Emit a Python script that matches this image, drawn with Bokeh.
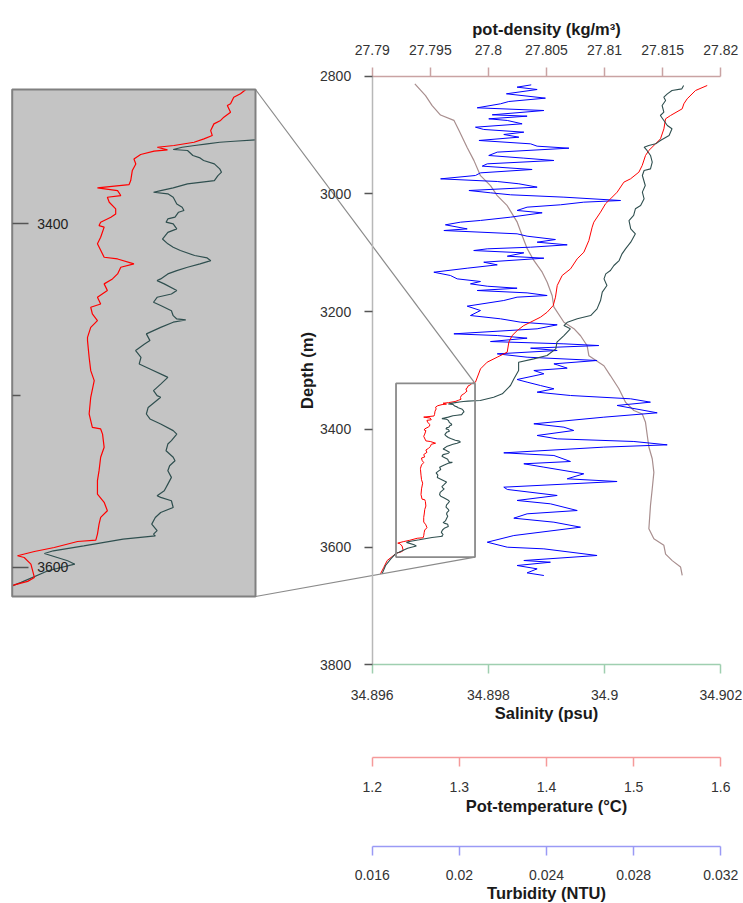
from bokeh.plotting import figure
from bokeh.models import Range1d, LinearAxis, FixedTicker, Grid
from bokeh.embed import file_html
from bokeh.resources import INLINE

# ---------------- data ----------------
# pot-density profile
rho_depth = [2813, 2833, 2850, 2866, 2875, 2892, 2921, 2943, 2969, 2986,
             3003, 3020, 3048, 3071, 3093, 3113, 3133, 3150, 3173, 3192,
             3218, 3229, 3241, 3258, 3275, 3292, 3309, 3331, 3354, 3368,
             3374, 3388, 3410, 3430, 3450, 3473, 3501, 3529, 3569, 3586,
             3597, 3612, 3623, 3634, 3648]
rho = [27.79367, 27.79459, 27.79516, 27.79588, 27.79703, 27.79746, 27.79817, 27.79875, 27.79932, 27.80018,
       27.80076, 27.80162, 27.80248, 27.80291, 27.80334, 27.80391, 27.80463, 27.80506, 27.80549, 27.80563,
       27.80650, 27.80736, 27.80793, 27.80850, 27.80865, 27.80994, 27.81051, 27.81123, 27.81180, 27.81252,
       27.81324, 27.81352, 27.81367, 27.81381, 27.81410, 27.81424, 27.81410, 27.81395, 27.81381, 27.81424,
       27.81510, 27.81525, 27.81582, 27.81654, 27.81668]

# turbidity profile
turb_depth = [2814.7, 2818.6, 2822.6, 2829.9, 2837.3, 2843.0, 2846.9, 2853.7, 2858.3, 2865.6,
              2867.9, 2872.4, 2875.2, 2880.9, 2886.6, 2890.5, 2895.1, 2899.0, 2903.6, 2909.2,
              2914.9, 2918.9, 2922.3, 2929.0, 2934.7, 2939.2, 2943.2, 2948.9, 2952.8, 2958.5,
              2964.2, 2968.7, 2974.4, 2978.9, 2982.8, 2988.5, 2994.2, 2998.1, 3001.5, 3005.5,
              3011.2, 3014.0, 3018.5, 3022.5, 3028.1, 3032.1, 3039.5, 3045.1, 3048.0, 3052.5,
              3059.4, 3062.2, 3067.8, 3071.8, 3077.5, 3082.0, 3086.5, 3090.5, 3093.3, 3096.2,
              3100.1, 3105.8, 3109.2, 3116.0, 3120.5, 3126.2, 3133.0, 3138.6, 3144.3, 3148.8,
              3152.8, 3156.8, 3160.2, 3164.1, 3168.1, 3172.6, 3175.4, 3181.1, 3190.7, 3198.1,
              3206.6, 3212.2, 3217.9, 3222.4, 3229.2, 3237.7, 3240.6, 3245.1, 3250.8, 3254.7,
              3257.6, 3262.1, 3266.0, 3271.7, 3277.4, 3283.0, 3288.7, 3290.4, 3296.0, 3300.0,
              3305.6, 3315.3, 3319.8, 3325.5, 3331.1, 3336.8, 3342.5, 3348.1, 3353.8, 3359.4,
              3371.9, 3379.3, 3390.6, 3396.3, 3401.9, 3410.4, 3416.1, 3420.6, 3426.3, 3430.2,
              3439.9, 3444.4, 3454.6, 3458.5, 3464.2, 3475.5, 3484.0, 3488.6, 3498.2, 3502.1,
              3512.3, 3520.8, 3526.5, 3537.9, 3543.5, 3550.9, 3557.7, 3566.2, 3580.4, 3591.7,
              3600.2, 3603.0, 3614.3, 3622.8, 3625.7, 3631.3, 3637.0, 3643.8, 3648.3]
turb = [0.02330, 0.02265, 0.02357, 0.02216, 0.02395, 0.02227, 0.02189, 0.02082, 0.02388, 0.02151,
        0.02311, 0.02135, 0.02220, 0.02288, 0.02074, 0.02112, 0.02296, 0.02204, 0.02273, 0.02090,
        0.02327, 0.02357, 0.02503, 0.02174, 0.02135, 0.02296, 0.02434, 0.02128, 0.02105, 0.02334,
        0.02097, 0.02074, 0.01914, 0.02174, 0.02273, 0.02357, 0.02044, 0.02143, 0.02235, 0.02480,
        0.02740, 0.02571, 0.02464, 0.02311, 0.02265, 0.02380, 0.02235, 0.02097, 0.02005, 0.01936,
        0.02036, 0.01929, 0.02265, 0.02311, 0.02441, 0.02357, 0.02495, 0.02327, 0.02128, 0.02066,
        0.02296, 0.02220, 0.02388, 0.02112, 0.02174, 0.02036, 0.01883, 0.01959, 0.01990, 0.02097,
        0.02051, 0.02128, 0.02265, 0.02082, 0.02311, 0.02403, 0.02265, 0.02204, 0.02036, 0.02097,
        0.02051, 0.02189, 0.02281, 0.02449, 0.02357, 0.01975, 0.02174, 0.02311, 0.02143, 0.02480,
        0.02640, 0.02327, 0.02449, 0.02174, 0.02311, 0.02632, 0.02434, 0.02449, 0.02495, 0.02342,
        0.02388, 0.02265, 0.02311, 0.02372, 0.02434, 0.02357, 0.02510, 0.02786, 0.02877, 0.02724,
        0.02908, 0.02663, 0.02342, 0.02480, 0.02525, 0.02357, 0.02449, 0.02801, 0.02954, 0.02663,
        0.02204, 0.02434, 0.02510, 0.02296, 0.02388, 0.02571, 0.02495, 0.02724, 0.02204, 0.02220,
        0.02449, 0.02265, 0.02418, 0.02541, 0.02311, 0.02250, 0.02434, 0.02556, 0.02250, 0.02128,
        0.02220, 0.02388, 0.02632, 0.02296, 0.02418, 0.02265, 0.02357, 0.02311, 0.02388]

# pot-temperature: above the zoom window, inside it (detailed), below it
temp_depth_above = [2815.8, 2824.3, 2838.4, 2846.9, 2855.4, 2866.8, 2872.4, 2889.4, 2906.4, 2914.9,
                    2926.2, 2934.7, 2951.7, 2963.0, 2974.4, 2980.0, 2997.0, 3008.3, 3016.8, 3031.0,
                    3048.0, 3056.5, 3079.2, 3099.0, 3110.3, 3127.3, 3138.6, 3155.6, 3175.4, 3189.6,
                    3200.9, 3209.4, 3217.9, 3223.6, 3232.1, 3240.6, 3251.9, 3268.9, 3277.4, 3285.9,
                    3297.2, 3319.8]
temp_above = [1.5844, 1.5710, 1.5614, 1.5576, 1.5557, 1.5423, 1.5366, 1.5347, 1.5308, 1.5251,
              1.5174, 1.5136, 1.5098, 1.5060, 1.4964, 1.4888, 1.4811, 1.4735, 1.4677, 1.4620,
              1.4543, 1.4524, 1.4486, 1.4429, 1.4352, 1.4276, 1.4180, 1.4123, 1.4103, 1.4077,
              1.4008, 1.3931, 1.3817, 1.3740, 1.3664, 1.3606, 1.3568, 1.3549, 1.3434, 1.3319,
              1.3243, 1.3185]
temp_depth_zoom = [3322.2, 3324.5, 3326.5, 3330.3, 3331.3, 3335.2, 3338.1, 3340.0, 3342.0, 3345.9,
                   3348.8, 3350.7, 3352.7, 3354.6, 3355.6, 3357.1, 3357.9, 3359.8, 3362.4, 3365.3,
                   3369.1, 3375.0, 3377.3, 3379.2, 3380.8, 3383.7, 3384.7, 3387.6, 3391.5, 3394.4,
                   3396.3, 3399.2, 3401.2, 3402.1, 3408.0, 3411.8, 3419.6, 3420.6, 3423.5, 3425.4,
                   3429.3, 3432.2, 3435.1, 3439.0, 3442.9, 3446.8, 3448.7, 3452.6, 3456.5, 3460.4,
                   3466.2, 3468.1, 3477.8, 3485.6, 3491.4, 3501.1, 3510.8, 3518.6, 3519.5, 3522.5,
                   3530.2, 3536.0, 3543.8, 3549.6, 3557.4, 3562.2, 3567.1, 3571.0, 3574.9, 3580.7,
                   3584.2, 3585.0, 3588.5, 3590.8, 3593.3, 3594.3, 3598.2, 3605.9, 3608.2, 3610.2,
                   3610.8]
temp_zoom = [1.3143, 1.3124, 1.3099, 1.3087, 1.3075, 1.3087, 1.3062, 1.3050, 1.3025, 1.3013,
             1.3019, 1.2988, 1.2951, 1.2876, 1.2814, 1.2852, 1.2802, 1.2752, 1.2727, 1.2734,
             1.2721, 1.2715, 1.2709, 1.2591, 1.2666, 1.2678, 1.2628, 1.2635, 1.2659, 1.2659,
             1.2641, 1.2603, 1.2597, 1.2616, 1.2603, 1.2591, 1.2616, 1.2666, 1.2727, 1.2678,
             1.2666, 1.2647, 1.2616, 1.2628, 1.2591, 1.2603, 1.2566, 1.2572, 1.2591, 1.2566,
             1.2554, 1.2554, 1.2560, 1.2566, 1.2579, 1.2566, 1.2560, 1.2572, 1.2603, 1.2610,
             1.2616, 1.2603, 1.2597, 1.2591, 1.2591, 1.2616, 1.2628, 1.2603, 1.2597, 1.2591,
             1.2585, 1.2517, 1.2430, 1.2356, 1.2293, 1.2318, 1.2343, 1.2356, 1.2331, 1.2281,
             1.2275]
temp_depth_below = [3622.8, 3634.2, 3645.5]
temp_below = [1.2172, 1.2134, 1.2095]

# salinity: above the zoom window, inside it (detailed), below it
sal_depth_above = [2815.8, 2821.5, 2824.3, 2830.0, 2835.6, 2841.3, 2849.8, 2861.1, 2866.8, 2875.2,
                   2883.7, 2889.4, 2900.7, 2909.2, 2914.9, 2917.7, 2920.6, 2926.2, 2934.7, 2946.0,
                   2957.4, 2960.2, 2968.7, 2985.7, 2997.0, 3008.3, 3019.7, 3025.3, 3036.6, 3045.2,
                   3059.4, 3067.8, 3082.0, 3093.3, 3101.8, 3113.2, 3121.6, 3130.1, 3135.8, 3144.3,
                   3155.6, 3166.9, 3181.1, 3195.3, 3206.6, 3212.2, 3217.9, 3223.6, 3229.2, 3240.6,
                   3251.9, 3263.2, 3274.5, 3280.2, 3285.9, 3300.0, 3314.1, 3325.5, 3339.6, 3345.3,
                   3351.0]
sal_above = [34.90136, 34.90133, 34.90116, 34.90108, 34.90102, 34.90105, 34.90099, 34.90102, 34.90096, 34.90102,
             34.90108, 34.90116, 34.90111, 34.90096, 34.90088, 34.90076, 34.90068, 34.90073, 34.90079, 34.90082,
             34.90079, 34.90068, 34.90065, 34.90070, 34.90065, 34.90068, 34.90062, 34.90053, 34.90050, 34.90042,
             34.90045, 34.90053, 34.90045, 34.90036, 34.90030, 34.90025, 34.90016, 34.90010, 34.90002, 34.89999,
             34.90004, 34.89996, 34.89993, 34.89987, 34.89976, 34.89953, 34.89936, 34.89930, 34.89941, 34.89930,
             34.89918, 34.89916, 34.89901, 34.89878, 34.89852, 34.89852, 34.89844, 34.89838, 34.89824, 34.89809,
             34.89786]
sal_depth_zoom = [3351.3, 3352.1, 3352.7, 3353.6, 3354.6, 3355.6, 3356.9, 3357.5, 3360.4, 3361.8,
                  3363.3, 3365.3, 3368.2, 3370.1, 3372.1, 3375.0, 3376.0, 3376.9, 3379.2, 3380.8,
                  3381.8, 3382.7, 3384.7, 3388.6, 3390.5, 3392.4, 3393.4, 3396.3, 3397.3, 3399.2,
                  3400.2, 3403.1, 3405.1, 3409.0, 3411.8, 3413.8, 3415.7, 3418.6, 3420.0, 3421.6,
                  3423.5, 3425.4, 3427.4, 3429.3, 3432.2, 3433.2, 3435.1, 3439.0, 3441.0, 3442.9,
                  3445.8, 3447.7, 3450.7, 3453.6, 3455.5, 3456.1, 3457.4, 3460.4, 3464.2, 3468.1,
                  3470.1, 3473.9, 3477.8, 3481.7, 3484.6, 3488.5, 3489.5, 3493.4, 3497.2, 3500.1,
                  3501.1, 3507.0, 3510.8, 3513.7, 3516.6, 3520.5, 3522.5, 3526.3, 3528.3, 3532.2,
                  3536.0, 3538.0, 3540.9, 3543.8, 3547.7, 3551.6, 3555.5, 3558.4, 3559.3, 3561.3,
                  3565.2, 3568.1, 3571.0, 3574.9, 3578.7, 3580.7, 3581.7, 3583.6, 3587.5, 3590.4,
                  3592.0, 3596.2, 3598.2, 3602.0, 3608.8, 3610.8]
sal_zoom = [34.89777, 34.89765, 34.89757, 34.89750, 34.89743, 34.89736, 34.89731, 34.89739, 34.89742, 34.89746,
            34.89748, 34.89754, 34.89757, 34.89758, 34.89756, 34.89754, 34.89746, 34.89739, 34.89731, 34.89724,
            34.89720, 34.89728, 34.89731, 34.89733, 34.89736, 34.89737, 34.89734, 34.89732, 34.89728, 34.89727,
            34.89731, 34.89733, 34.89728, 34.89725, 34.89728, 34.89731, 34.89735, 34.89743, 34.89750, 34.89752,
            34.89746, 34.89739, 34.89733, 34.89728, 34.89724, 34.89722, 34.89726, 34.89733, 34.89730, 34.89722,
            34.89720, 34.89724, 34.89730, 34.89731, 34.89733, 34.89738, 34.89731, 34.89724, 34.89716, 34.89718,
            34.89715, 34.89710, 34.89713, 34.89712, 34.89718, 34.89726, 34.89728, 34.89724, 34.89720, 34.89722,
            34.89724, 34.89717, 34.89716, 34.89718, 34.89724, 34.89731, 34.89733, 34.89730, 34.89728, 34.89727,
            34.89731, 34.89732, 34.89729, 34.89728, 34.89730, 34.89728, 34.89726, 34.89722, 34.89724, 34.89730,
            34.89731, 34.89724, 34.89721, 34.89719, 34.89722, 34.89720, 34.89721, 34.89703, 34.89681, 34.89664,
            34.89659, 34.89672, 34.89676, 34.89661, 34.89646, 34.89641]
sal_depth_below = [3620.0, 3631.3, 3645.5]
sal_below = [34.89632, 34.89623, 34.89617]

# axes: limits, ticks and tick labels
DEPTH_LIM = (2800, 3800)
SAL_LIM = (34.896, 34.902)
RHO_LIM = (27.79, 27.82)
TMP_LIM = (1.2, 1.6)
TUR_LIM = (0.016, 0.032)
depth_ticks = [2800, 3000, 3200, 3400, 3600, 3800]
depth_labels = ["2800", "3000", "3200", "3400", "3600", "3800"]
rho_ticks = [27.79, 27.795, 27.8, 27.805, 27.81, 27.815, 27.82]
rho_labels = ["27.79", "27.795", "27.8", "27.805", "27.81", "27.815", "27.82"]
sal_ticks = [34.896, 34.898, 34.9, 34.902]
sal_labels = ["34.896", "34.898", "34.9", "34.902"]
tmp_ticks = [1.2, 1.3, 1.4, 1.5, 1.6]
tmp_labels = ["1.2", "1.3", "1.4", "1.5", "1.6"]
tur_ticks = [0.016, 0.02, 0.024, 0.028, 0.032]
tur_labels = ["0.016", "0.02", "0.024", "0.028", "0.032"]
zoom_ticks = [3400, 3600]
zoom_labels = ["3400", "3600"]
zoom_minor = [3500]

# zoom window (data coordinates of the rectangle)
WIN_SAL = (34.89641, 34.89777)
WIN_DEPTH = (3322.0, 3617.0)

# ---------------- layout (canvas pixels) ----------------
W, H = 743, 903
X_L, X_R = 371.7, 720.3          # main x-axes span
Y_T, Y_B = 75.7, 664.3           # depth 2800 .. 3800
INS_L, INS_R, INS_T, INS_B = 11.7, 255.0, 89.0, 596.0
Y_TMP_AXIS = 757.3
Y_TUR_AXIS = 845.7

FONT = "Liberation Sans"
C_RED = "#ff0000"
C_SAL = "#2f4f4f"
C_BLUE = "#0000ff"
C_RHO = "#a88e8e"


def lin_range(v0, v1, p0, p1, total):
    k = (v1 - v0) / (p1 - p0)
    return Range1d(start=v0 - p0 * k, end=v0 + (total - p0) * k)


def depth_at(cy):
    return DEPTH_LIM[0] + (cy - Y_T) * (DEPTH_LIM[1] - DEPTH_LIM[0]) / (Y_B - Y_T)


def sal_at(cx):
    return SAL_LIM[0] + (cx - X_L) * (SAL_LIM[1] - SAL_LIM[0]) / (X_R - X_L)


def tmp_of_sal(s):
    return TMP_LIM[0] + (s - SAL_LIM[0]) / (SAL_LIM[1] - SAL_LIM[0]) * (TMP_LIM[1] - TMP_LIM[0])


WIN_TMP = (tmp_of_sal(WIN_SAL[0]), tmp_of_sal(WIN_SAL[1]))

p = figure(width=W, height=H,
           x_range=lin_range(SAL_LIM[0], SAL_LIM[1], X_L, X_R, W),
           y_range=lin_range(DEPTH_LIM[0], DEPTH_LIM[1], H - Y_T, H - Y_B, H),
           x_axis_location=None, y_axis_location=None,
           toolbar_location=None, output_backend="svg", min_border=0)
p.outline_line_color = None
p.background_fill_color = "white"
p.border_fill_color = "white"
for g in p.select(type=Grid):
    g.visible = False

p.extra_x_ranges = {
    "rho": lin_range(RHO_LIM[0], RHO_LIM[1], X_L, X_R, W),
    "tmp": lin_range(TMP_LIM[0], TMP_LIM[1], X_L, X_R, W),
    "tur": lin_range(TUR_LIM[0], TUR_LIM[1], X_L, X_R, W),
    "ins_s": lin_range(WIN_SAL[0], WIN_SAL[1], INS_L, INS_R, W),
    "ins_t": lin_range(WIN_TMP[0], WIN_TMP[1], INS_L, INS_R, W),
}
p.extra_y_ranges = {
    "ins_d": lin_range(WIN_DEPTH[0], WIN_DEPTH[1], H - INS_T, H - INS_B, H),
}


def styled_axis(ticks, labels, color, tick_color, label, tick_out=9, standoff=12,
                label_standoff=2, **kw):
    ax = LinearAxis(ticker=FixedTicker(ticks=ticks, minor_ticks=[]),
                    major_label_overrides=dict(zip(ticks, labels)),
                    axis_line_color=color, axis_line_width=1.5,
                    major_tick_line_color=tick_color, major_tick_line_width=1.5,
                    major_tick_in=0, major_tick_out=tick_out,
                    minor_tick_line_color=None,
                    major_label_standoff=standoff,
                    major_label_text_font=FONT, major_label_text_font_size="14px",
                    major_label_text_color="#333333",
                    axis_label=label, axis_label_text_font=FONT,
                    axis_label_text_font_size="16.5px", axis_label_text_font_style="bold",
                    axis_label_text_color="#1a1a1a", axis_label_standoff=label_standoff,
                    **kw)
    return ax


# depth axis (left of main plot)
ax_depth = styled_axis(depth_ticks, depth_labels, "#b8b8b8", "#555555", "Depth (m)",
                       tick_out=8, standoff=13, label_standoff=1,
                       fixed_location=SAL_LIM[0], bounds=DEPTH_LIM)
p.add_layout(ax_depth, "left")

# pot-density axis (top)
ax_rho = styled_axis(rho_ticks, rho_labels, "#c9a3a3", "#c9a3a3", "pot-density (kg/m³)",
                     standoff=12, label_standoff=5, x_range_name="rho",
                     fixed_location=DEPTH_LIM[0], bounds=RHO_LIM)
p.add_layout(ax_rho, "above")

# salinity axis (bottom of main plot)
ax_sal = styled_axis(sal_ticks, sal_labels, "#9fcfb0", "#9fcfb0", "Salinity (psu)",
                     standoff=16, label_standoff=1,
                     fixed_location=DEPTH_LIM[1], bounds=SAL_LIM)
p.add_layout(ax_sal, "below")

# pot-temperature axis
ax_tmp = styled_axis(tmp_ticks, tmp_labels, "#f59a9a", "#f59a9a", "Pot-temperature (°C)",
                     standoff=15, label_standoff=2,
                     x_range_name="tmp", fixed_location=depth_at(Y_TMP_AXIS), bounds=TMP_LIM)
p.add_layout(ax_tmp, "below")

# turbidity axis
ax_tur = styled_axis(tur_ticks, tur_labels, "#9a9af5", "#9a9af5", "Turbidity (NTU)",
                     standoff=15, label_standoff=0,
                     x_range_name="tur", fixed_location=depth_at(Y_TUR_AXIS), bounds=TUR_LIM)
p.add_layout(ax_tur, "below")

# ---------------- main profiles ----------------
temp_depth_all = temp_depth_above + temp_depth_zoom + temp_depth_below
temp_all = temp_above + temp_zoom + temp_below
sal_depth_all = sal_depth_above + sal_depth_zoom + sal_depth_below
sal_all = sal_above + sal_zoom + sal_below

p.line(x=rho, y=rho_depth, x_range_name="rho", line_color=C_RHO, line_width=1.2)
p.line(x=turb, y=turb_depth, x_range_name="tur", line_color=C_BLUE, line_width=1)
p.line(x=temp_all, y=temp_depth_all, x_range_name="tmp", line_color=C_RED, line_width=1)
p.line(x=sal_all, y=sal_depth_all, line_color=C_SAL, line_width=1.1)

# zoom rectangle on the main plot
p.quad(left=[WIN_SAL[0]], right=[WIN_SAL[1]], top=[WIN_DEPTH[0]], bottom=[WIN_DEPTH[1]],
       fill_color=None, line_color="#8a8a8a", line_width=1.8)

# connecting lines (inset corners -> rectangle corners), in main coordinates
ins_top_right = (sal_at(INS_R), depth_at(INS_T))
ins_bot_right = (sal_at(INS_R), depth_at(INS_B))
p.segment(x0=[ins_top_right[0], ins_bot_right[0]], y0=[ins_top_right[1], ins_bot_right[1]],
          x1=[WIN_SAL[1], WIN_SAL[1]], y1=[WIN_DEPTH[0], WIN_DEPTH[1]],
          line_color="#8a8a8a", line_width=1.2)

# ---------------- inset ----------------
p.quad(left=[WIN_SAL[0]], right=[WIN_SAL[1]], top=[WIN_DEPTH[0]], bottom=[WIN_DEPTH[1]],
       x_range_name="ins_s", y_range_name="ins_d",
       fill_color="#c4c4c4", line_color=None)
p.line(x=sal_zoom, y=sal_depth_zoom, x_range_name="ins_s", y_range_name="ins_d",
       line_color=C_SAL, line_width=1.2)
p.line(x=temp_zoom, y=temp_depth_zoom, x_range_name="ins_t", y_range_name="ins_d",
       line_color=C_RED, line_width=1.2)
p.quad(left=[WIN_SAL[0]], right=[WIN_SAL[1]], top=[WIN_DEPTH[0]], bottom=[WIN_DEPTH[1]],
       x_range_name="ins_s", y_range_name="ins_d",
       fill_color=None, line_color="#808080", line_width=2)

ax_ins = LinearAxis(ticker=FixedTicker(ticks=zoom_ticks, minor_ticks=zoom_minor),
                    major_label_overrides=dict(zip(zoom_ticks, zoom_labels)),
                    x_range_name="ins_s", y_range_name="ins_d",
                    fixed_location=WIN_SAL[0], bounds=WIN_DEPTH,
                    axis_line_color=None,
                    major_tick_line_color="#555555", major_tick_line_width=1.5,
                    major_tick_in=0, major_tick_out=16,
                    minor_tick_line_color="#555555", minor_tick_line_width=1.5,
                    minor_tick_in=0, minor_tick_out=8,
                    major_label_standoff=9,
                    major_label_text_font=FONT, major_label_text_font_size="14px",
                    major_label_text_color="#222222")
p.add_layout(ax_ins, "right")

open("out.html", "w").write(file_html(p, INLINE))
